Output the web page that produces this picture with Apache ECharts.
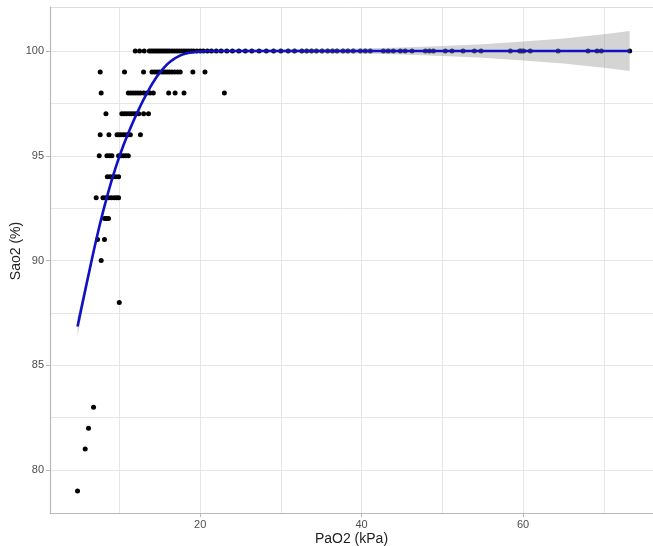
<!DOCTYPE html>
<html>
<head>
<meta charset="utf-8">
<script src="https://cdn.jsdelivr.net/npm/echarts@6/dist/echarts.min.js"></script>
<style>
html,body{margin:0;padding:0;background:#fff;}
#chart{width:653px;height:546px;}
</style>
</head>
<body>
<div id="chart"></div>
<script>
// PaO2 (kPa) values of the points, grouped by their SaO2 (%) level
const pao2At100 = [11.96, 12.5, 13.07, 13.7, 13.95, 14.2, 14.45, 14.7, 14.95, 15.2, 15.45, 15.7, 15.95, 16.2, 16.5, 16.8, 17.1, 17.4, 17.7, 18.0, 18.3, 18.6, 18.9, 19.2, 19.6, 20.0, 20.4, 20.9, 21.4, 22.0, 22.6, 23.3, 24.0, 24.8, 25.6, 26.4, 27.3, 28.2, 29.1, 30.0, 30.9, 31.7, 32.6, 33.2, 33.8, 34.4, 35.1, 35.8, 36.4, 36.95, 37.7, 38.3, 38.97, 39.84, 40.46, 41.08, 42.7, 43.3, 43.93, 44.8, 45.4, 46.25, 47.9, 48.4, 48.9, 50.37, 51.2, 52.57, 53.97, 54.8, 58.43, 59.58, 59.8, 60.07, 60.9, 64.34, 68.05, 69.17, 69.7, 73.21];
const pao2At99 = [7.62, 10.63, 12.99, 14.03, 14.35, 14.65, 14.95, 15.3, 15.6, 15.9, 16.2, 16.5, 16.85, 17.2, 17.53, 19.1, 20.6];
const pao2At98 = [7.74, 11.1, 11.4, 11.7, 12.0, 12.3, 12.6, 13.0, 13.4, 13.8, 14.2, 16.1, 16.9, 18.0, 23.0];
const pao2At97 = [8.33, 10.3, 10.6, 10.9, 11.2, 11.5, 11.8, 12.1, 12.4, 13.0, 13.6];
const pao2At96 = [7.62, 8.7, 9.7, 9.95, 10.2, 10.5, 10.8, 11.1, 11.35, 12.6];
const pao2At95 = [7.5, 8.45, 8.75, 9.07, 9.9, 10.2, 10.5, 10.8, 11.1];
const pao2At94 = [8.5, 8.85, 9.2, 9.55, 9.9];
const pao2At93 = [7.12, 7.96, 8.3, 8.65, 9.0, 9.35, 9.65, 9.9];
const pao2At92 = [8.15, 8.4, 8.65];
const pao2At91 = [7.29, 8.15];
const pao2At90 = [7.74];
const pao2At88 = [9.98];
const pao2At83 = [6.79];
const pao2At82 = [6.17];
const pao2At81 = [5.76];
const pao2At79 = [4.81];

const sao2Levels = [100, 99, 98, 97, 96, 95, 94, 93, 92, 91, 90, 88, 83, 82, 81, 79];
const pao2Groups = [pao2At100, pao2At99, pao2At98, pao2At97, pao2At96, pao2At95, pao2At94, pao2At93, pao2At92, pao2At91, pao2At90, pao2At88, pao2At83, pao2At82, pao2At81, pao2At79];

// smoothed fit and its confidence band
const fitX   = [4.81, 5.5, 6.5, 7.5, 8.5, 9.5, 10.5, 11.5, 12.5, 13.5, 14.5, 15.5, 16.5, 17.5, 18.5, 19.5, 21, 25, 30, 35, 40, 45, 50, 55, 60, 65, 70, 73.21];
const fitY   = [86.85, 88.1, 89.9, 91.6, 93.1, 94.4, 95.5, 96.45, 97.3, 98.05, 98.7, 99.2, 99.55, 99.78, 99.9, 99.96, 100, 100, 100, 100, 100, 100, 100, 100, 100, 100, 100, 100];
const ciLow  = [86.40, 87.78, 89.70, 91.46, 92.99, 94.30, 95.41, 96.365, 97.22, 97.975, 98.63, 99.14, 99.495, 99.73, 99.85, 99.91, 99.95, 99.94, 99.93, 99.91, 99.88, 99.83, 99.76, 99.68, 99.55, 99.40, 99.20, 99.05];
const ciHigh = [87.30, 88.42, 90.10, 91.74, 93.21, 94.50, 95.59, 96.535, 97.38, 98.125, 98.77, 99.26, 99.605, 99.83, 99.95, 100.01, 100.05, 100.06, 100.07, 100.09, 100.12, 100.17, 100.24, 100.32, 100.45, 100.60, 100.80, 100.95];

// axis ticks and grid lines
const xTicks = [20, 40, 60];
const xMinorGrid = [10, 30, 50, 70];
const yTicks = [80, 85, 90, 95, 100];
const yMinorGrid = [82.5, 87.5, 92.5, 97.5];
const xRange = [1.4, 76.1];
const yRange = [77.95, 102.1];

const points = [];
sao2Levels.forEach((lvl, i) => pao2Groups[i].forEach(x => points.push([x, lvl])));
const fitData = fitX.map((x, i) => [x, fitY[i]]);

const gridColor = '#e6e6e6';
const gridLines = []
  .concat(xTicks.map(v => ({xAxis: v})))
  .concat(xMinorGrid.map(v => ({xAxis: v})))
  .concat(yTicks.map(v => ({yAxis: v})))
  .concat(yMinorGrid.map(v => ({yAxis: v})));

const font = 'Liberation Sans, Arial, sans-serif';
const chart = echarts.init(document.getElementById('chart'), null, {renderer: 'canvas'});
chart.setOption({
  animation: false,
  backgroundColor: '#ffffff',
  textStyle: {fontFamily: font},
  grid: {left: 50, right: 0, top: 7, bottom: 33, containLabel: false, outerBoundsMode: 'none'},
  xAxis: {
    type: 'value', min: xRange[0], max: xRange[1],
    name: 'PaO2 (kPa)', nameLocation: 'middle', nameGap: 19, nameMoveOverlap: false,
    nameTextStyle: {fontSize: 14, color: '#222', fontFamily: font},
    axisLine: {show: true, onZero: false, lineStyle: {color: '#b8b8b8', width: 1.2}},
    axisTick: {show: true, length: 4, lineStyle: {color: '#b8b8b8'}, customValues: xTicks},
    axisLabel: {fontSize: 11, color: '#4d4d4d', margin: 6, customValues: xTicks, fontFamily: font},
    splitLine: {show: false}
  },
  yAxis: {
    type: 'value', min: yRange[0], max: yRange[1],
    name: 'Sao2 (%)', nameLocation: 'middle', nameGap: 27, nameMoveOverlap: false,
    nameTextStyle: {fontSize: 14, color: '#222', fontFamily: font, padding: [0, 0, 0, 18]},
    axisLine: {show: true, onZero: false, lineStyle: {color: '#b8b8b8', width: 1.2}},
    axisTick: {show: true, length: 4, lineStyle: {color: '#b8b8b8'}, customValues: yTicks},
    axisLabel: {fontSize: 11, color: '#4d4d4d', margin: 6, customValues: yTicks, fontFamily: font},
    splitLine: {show: false}
  },
  series: [
    {
      type: 'scatter', data: [], z: 0, silent: true,
      markLine: {
        silent: true, z: 0, symbol: ['none', 'none'], label: {show: false},
        lineStyle: {color: gridColor, width: 1, type: 'solid'},
        emphasis: {disabled: true},
        data: gridLines.concat([{yAxis: yRange[1], lineStyle: {color: '#dcdcdc'}}])
      }
    },
    {
      type: 'scatter', data: points, symbolSize: 5, z: 2,
      itemStyle: {color: '#000000', opacity: 1}
    },
    {
      type: 'custom', data: [0], z: 3, silent: true,
      renderItem: function (params, api) {
        const upper = fitX.map((x, i) => api.coord([x, ciHigh[i]]));
        const lower = fitX.map((x, i) => api.coord([x, ciLow[i]])).reverse();
        return {
          type: 'polygon',
          shape: {points: upper.concat(lower)},
          style: {fill: 'rgba(153,153,153,0.42)', stroke: null}
        };
      }
    },
    {
      type: 'line', data: fitData, symbol: 'none', z: 4,
      smooth: 0.5,
      lineStyle: {color: '#1010c4', width: 2.6}
    }
  ]
});
</script>
</body>
</html>
